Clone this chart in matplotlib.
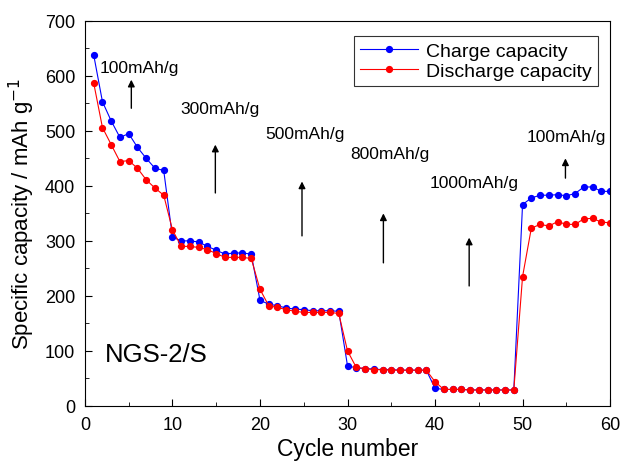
import numpy as np
import matplotlib
matplotlib.use("Agg")
import matplotlib.pyplot as plt
from matplotlib.ticker import MultipleLocator

plt.rcParams['font.family'] = ['Liberation Sans', 'DejaVu Sans']

cycles = list(range(1, 61))
charge = [638, 553, 518, 488, 495, 470, 450, 432, 428, 307,
          300, 300, 298, 290, 283, 276, 278, 278, 276, 192,
          185, 182, 178, 176, 175, 173, 173, 173, 172, 73,
          69, 68, 67, 66, 66, 65, 65, 65, 65, 32,
          30, 30, 30, 29, 29, 29, 29, 29, 29, 366,
          378, 383, 383, 384, 382, 386, 398, 398, 390, 390]
discharge = [587, 506, 475, 444, 446, 432, 411, 396, 383, 320,
             290, 290, 288, 284, 277, 270, 270, 270, 268, 212,
             182, 179, 175, 172, 170, 170, 170, 170, 168, 100,
             70, 68, 66, 66, 65, 65, 65, 65, 65, 44,
             30, 30, 30, 29, 29, 29, 29, 29, 29, 235,
             323, 330, 327, 335, 330, 330, 340, 341, 334, 333]

rate_labels = ["100mAh/g", "300mAh/g", "500mAh/g", "800mAh/g", "1000mAh/g", "100mAh/g"]
label_pos = [(1.7, 616), (10.9, 540), (20.6, 495), (30.3, 458), (39.4, 407), (50.5, 489)]
arrow_x = [5.3, 14.9, 24.8, 34.1, 43.9, 54.9]
arrow_y = [(536, 598), (382, 480), (304, 413), (255, 355), (213, 311), (409, 455)]

fig = plt.figure(figsize=(6.2, 4.64), dpi=100)
ax = fig.add_axes([0.137, 0.123, 0.847, 0.830])

ax.plot(cycles, charge, color="blue", marker="o", markersize=4.2, lw=0.8,
        label="Charge capacity")
ax.plot(cycles, discharge, color="red", marker="o", markersize=4.2, lw=0.8,
        label="Discharge capacity")

for txt, (x, y) in zip(rate_labels, label_pos):
    ax.text(x, y, txt, fontsize=12.5, ha="left", va="center")
for x, (y0, y1) in zip(arrow_x, arrow_y):
    ax.annotate("", xy=(x, y1), xytext=(x, y0),
                arrowprops=dict(arrowstyle="-|>", color="black", lw=1,
                                mutation_scale=10))

ax.text(2.3, 95, "NGS-2/S", fontsize=18.5, ha="left", va="center")

ax.set_xlim(0, 60)
ax.set_ylim(0, 700)
ax.xaxis.set_major_locator(MultipleLocator(10))
ax.xaxis.set_minor_locator(MultipleLocator(5))
ax.yaxis.set_major_locator(MultipleLocator(100))
ax.yaxis.set_minor_locator(MultipleLocator(50))
ax.tick_params(which="both", direction="in", labelsize=13)
ax.tick_params(which="major", length=5, pad=7)
ax.tick_params(which="minor", length=3)

ax.set_xlabel("Cycle number", fontsize=16.5, labelpad=3)
ax.set_ylabel("Specific capacity / mAh g$^{-1}$", fontsize=16, labelpad=6)

leg = ax.legend(loc="upper right", fontsize=14, fancybox=False, edgecolor="black",
                handlelength=3.0, borderpad=0.3, labelspacing=0.15,
                handletextpad=0.4, bbox_to_anchor=(0.995, 0.985))
leg.get_frame().set_linewidth(0.8)

fig.savefig("out.png", dpi=100)
